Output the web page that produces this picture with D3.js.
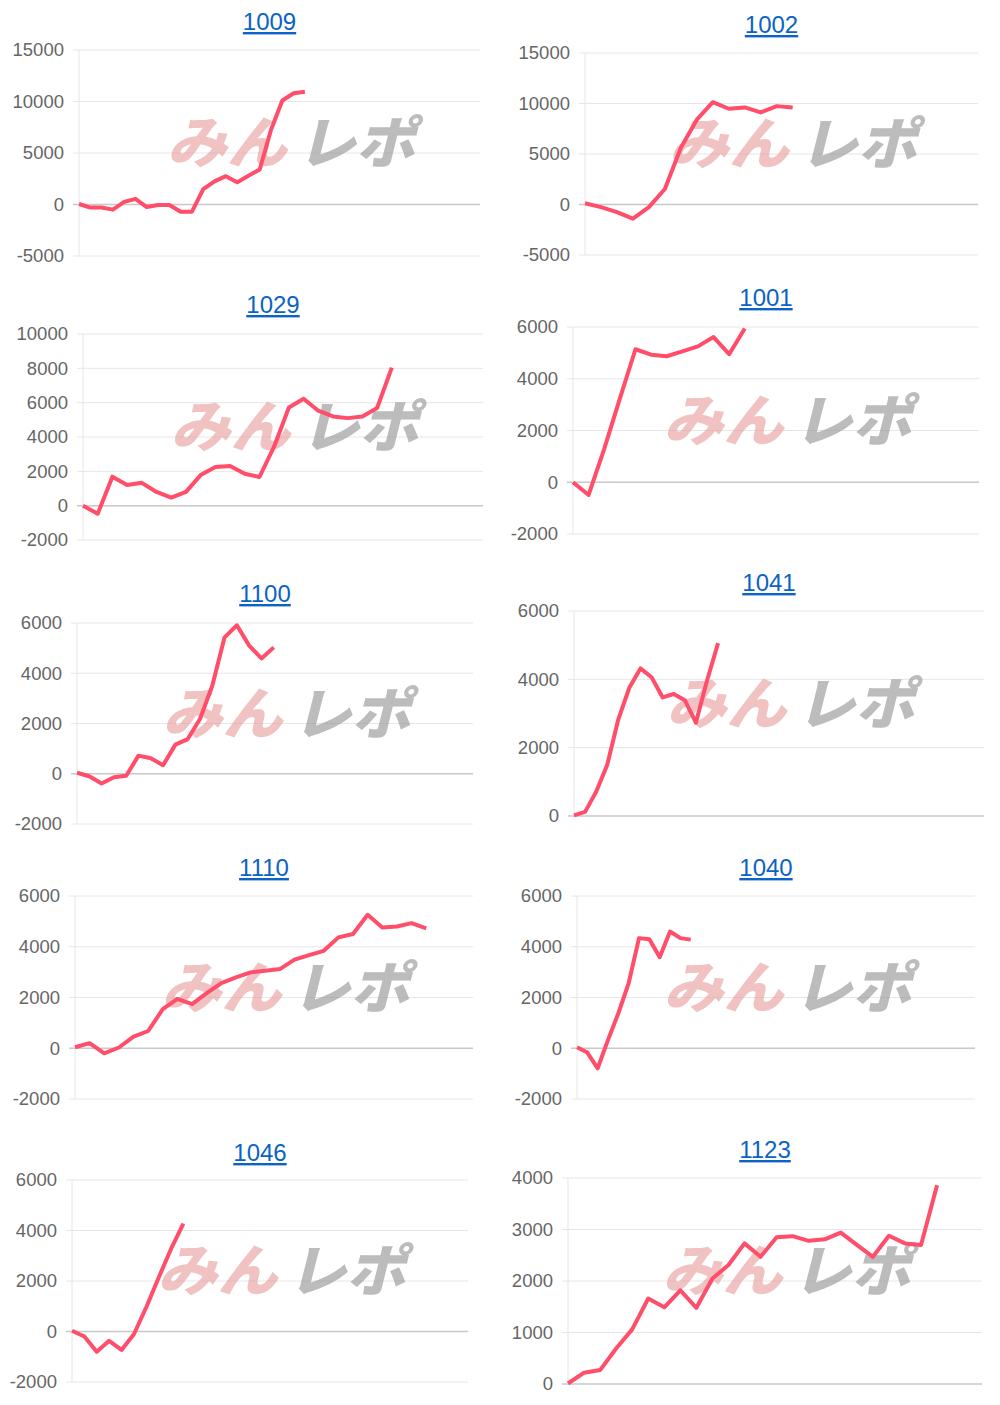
<!DOCTYPE html>
<html><head><meta charset="utf-8">
<script src="https://cdn.jsdelivr.net/npm/d3@7"></script>
<style>body{margin:0;background:#fff;font-family:"Liberation Sans",Arial,sans-serif}</style>
</head><body><svg id="c" width="1000" height="1405"></svg>
<script>
const names = ["1009","1002","1029","1001","1100","1041","1110","1040","1046","1123"];
const v1009 = [50,-300,-300,-500,250,550,-250,-50,-50,-700,-700,1500,2250,2750,2150,2800,3400,7250,10100,10800,10950];
const v1002 = [130,-260,-750,-1400,-260,1540,5620,8400,10130,9480,9610,9120,9740,9610];
const v1029 = [0,-470,1690,1200,1330,800,470,800,1780,2250,2310,1860,1670,3450,5720,6230,5530,5200,5100,5200,5690,8040];
const v1001 = [0,-490,1290,3230,5140,4930,4870,5060,5250,5610,4950,5940];
const v1100 = [40,-100,-390,-140,-80,720,620,340,1160,1380,2180,3500,5430,5910,5100,4590,5030];
const v1041 = [20,120,710,1500,2830,3760,4320,4060,3470,3570,3390,2730,3960,5060];
const v1110 = [40,200,-200,30,460,680,1540,1950,1740,2170,2570,2790,2990,3050,3120,3490,3670,3840,4370,4500,5260,4760,4800,4930,4720];
const v1040 = [40,-170,-790,330,1380,2570,4340,4300,3590,4600,4340,4280];
const v1046 = [30,-200,-800,-370,-730,-110,960,2130,3270,4270];
const v1123 = [10,220,270,690,1060,1660,1490,1820,1480,2050,2310,2730,2470,2850,2870,2780,2810,2940,2700,2470,2880,2730,2700,3860];
const series = [v1009,v1002,v1029,v1001,v1100,v1041,v1110,v1040,v1046,v1123];
const yTicks = [
 [-5000,0,5000,10000,15000],[-5000,0,5000,10000,15000],
 [-2000,0,2000,4000,6000,8000,10000],[-2000,0,2000,4000,6000],
 [-2000,0,2000,4000,6000],[0,2000,4000,6000],
 [-2000,0,2000,4000,6000],[-2000,0,2000,4000,6000],
 [-2000,0,2000,4000,6000],[0,1000,2000,3000,4000]];
const xSlots = [35.5,24.6,27.2,26,32.2,37,27.2,38.5,32,25.8];

// layout: [left,right,top,bottom,titleY]
const layout = [
 [79,480,50,256,22],[585,978,53,255,25],
 [83,483,334,540,305],[573,979,327,534,298],
 [77,473,623,824,594],[574,984,611,816,583],
 [75,473,896,1099,868],[577,975,896,1099,868],
 [72,468,1180,1382,1153],[568,982,1178,1384,1150]];

const svg = d3.select("#c");
names.forEach((nm,i)=>{
  const [L,R,T,B,ty] = layout[i];
  const tk = yTicks[i];
  const y = d3.scaleLinear().domain([tk[0],tk[tk.length-1]]).range([B,T]);
  const x = d3.scaleLinear().domain([0,xSlots[i]]).range([L,R]);
  const g = svg.append("g");
  g.selectAll(".gl").data(tk).enter().append("line")
    .attr("x1",L-6).attr("x2",R).attr("y1",d=>y(d)).attr("y2",d=>y(d))
    .attr("stroke",d=>d===0?"#c8c8c8":"#e6e6e6").attr("stroke-width",d=>d===0?1.5:1);
  g.append("line").attr("x1",L).attr("x2",L).attr("y1",T).attr("y2",B).attr("stroke","#e6e6e6");
  const ax = g.append("g").attr("transform",`translate(${L-12},0)`)
    .call(d3.axisLeft(y).tickValues(tk).tickSize(0).tickPadding(3).tickFormat(d=>String(d)));
  ax.select(".domain").remove();
  ax.selectAll("text").attr("fill","#666").style("font-size","18.5px").style("font-family","Liberation Sans, Arial, sans-serif");
  const cx=(L+R)/2+15, cy=(T+B)/2-12;
  const wm = g.append("g").attr("transform",`translate(${cx},${cy}) skewX(-14)`);
  wm.append("text").attr("x",-2).attr("y",22).attr("text-anchor","end")
    .attr("fill","#e89a9a").attr("opacity",0.6).style("font-size","56px").style("font-weight","900")
    .attr("textLength",120).attr("lengthAdjust","spacingAndGlyphs")
    .style("font-family","Noto Sans CJK JP").text("みん");
  wm.append("text").attr("x",8).attr("y",22).attr("text-anchor","start")
    .attr("fill","#999").attr("opacity",0.65).style("font-size","56px").style("font-weight","900")
    .attr("textLength",118).attr("lengthAdjust","spacingAndGlyphs")
    .style("font-family","Noto Sans CJK JP").text("レポ");
  const line = d3.line().x((d,j)=>x(j)).y(d=>y(d));
  g.append("path").datum(series[i]).attr("d",line).attr("fill","none")
    .attr("stroke","#ff4d6a").attr("stroke-width",4).attr("stroke-linejoin","round");
  svg.append("text").attr("x",(L+R)/2-10).attr("y",ty+8).attr("text-anchor","middle")
    .attr("fill","#0b63c5").style("font-size","24px").style("text-decoration","underline").text(nm);
});
</script></body></html>
